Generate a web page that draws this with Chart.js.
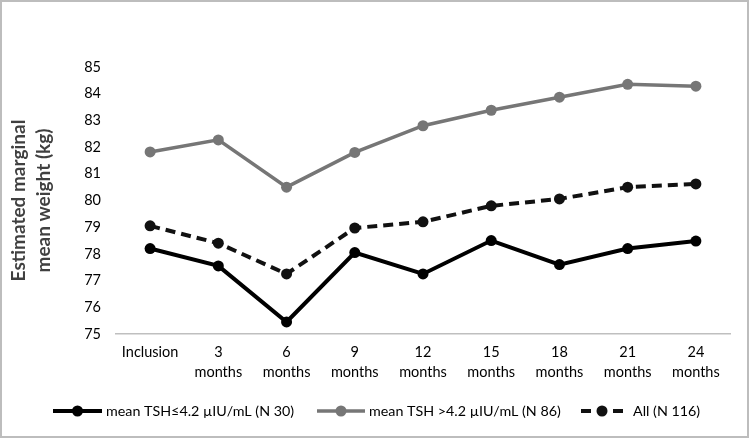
<!DOCTYPE html>
<html>
<head>
<meta charset="utf-8">
<script src="https://cdn.jsdelivr.net/npm/chart.js@4/dist/chart.umd.min.js"></script>
<style>
  html, body { margin: 0; padding: 0; background: #fff; }
  #wrap { position: relative; width: 750px; height: 438px; }
</style>
</head>
<body>
<div id="wrap"><canvas id="c" width="750" height="438"></canvas></div>
<script>
const categories = [["Inclusion"], ["3", "months"], ["6", "months"], ["9", "months"], ["12", "months"], ["15", "months"], ["18", "months"], ["21", "months"], ["24", "months"]];
const tshLow = [78.2, 77.55, 75.45, 78.05, 77.25, 78.5, 77.6, 78.2, 78.48];
const tshHigh = [81.82, 82.27, 80.5, 81.8, 82.8, 83.38, 83.87, 84.35, 84.28];
const allPatients = [79.05, 78.4, 77.25, 78.97, 79.2, 79.8, 80.06, 80.5, 80.62];
const seriesLabels = ["mean TSH\u22644.2 \u00b5IU/mL (N 30)", "mean TSH >4.2 \u00b5IU/mL (N 86)", "All (N 116)"];
const yTitle = ["Estimated marginal", "mean weight (kg)"];
const yMin = 75, yMax = 85;

const FONT = "Lato, 'Open Sans', sans-serif";
const GRAY = "#767676";
// legend layout: sample start, sample width, text start
const LEGEND_SAMPLE_X = [53, 317, 581];
const LEGEND_SAMPLE_W = [49, 48, 42];
const LEGEND_TEXT_X = [106, 369, 633];
const LEGEND_Y = 411;

const frameAndLegend = {
  id: "frameAndLegend",
  beforeDraw(chart) {
    const ctx = chart.ctx;
    ctx.save();
    ctx.fillStyle = "#fff";
    ctx.fillRect(0, 0, chart.width, chart.height);
    ctx.restore();
  },
  afterDraw(chart) {
    const ctx = chart.ctx;
    ctx.save();
    // frame
    ctx.strokeStyle = "#bdbdbd";
    ctx.lineWidth = 2;
    ctx.strokeRect(1, 1, chart.width - 3, chart.height - 2);
    // legend
    const y = LEGEND_Y;
    ctx.font = "14.3px " + FONT;
    ctx.textBaseline = "middle";
    ctx.textAlign = "left";
    chart.data.datasets.forEach((ds, i) => {
      const x = LEGEND_SAMPLE_X[i];
      const w = LEGEND_SAMPLE_W[i];
      ctx.beginPath();
      ctx.strokeStyle = ds.borderColor;
      ctx.lineWidth = ds.borderWidth;
      ctx.setLineDash(ds.borderDash || []);
      ctx.moveTo(x, y);
      ctx.lineTo(x + w, y);
      ctx.stroke();
      ctx.setLineDash([]);
      ctx.beginPath();
      ctx.fillStyle = ds.pointBackgroundColor;
      ctx.arc(x + w / 2, y, ds.pointRadius, 0, Math.PI * 2);
      ctx.fill();
      ctx.fillStyle = "#000";
      ctx.fillText(ds.label, LEGEND_TEXT_X[i], y);
    });
    ctx.restore();
  }
};

new Chart(document.getElementById("c"), {
  type: "line",
  data: {
    labels: categories,
    datasets: [
      {
        label: seriesLabels[0], data: tshLow,
        borderColor: "#000", backgroundColor: "#000",
        pointBackgroundColor: "#000", pointBorderColor: "#000",
        borderWidth: 4, pointRadius: 5.5, pointBorderWidth: 0, tension: 0
      },
      {
        label: seriesLabels[1], data: tshHigh,
        borderColor: GRAY, backgroundColor: GRAY,
        pointBackgroundColor: GRAY, pointBorderColor: GRAY,
        borderWidth: 3.5, pointRadius: 5.5, pointBorderWidth: 0, tension: 0
      },
      {
        label: seriesLabels[2], data: allPatients,
        borderColor: "#111", backgroundColor: "#111",
        pointBackgroundColor: "#111", pointBorderColor: "#111",
        borderWidth: 4, borderDash: [10, 6], pointRadius: 5.5, pointBorderWidth: 0, tension: 0
      }
    ]
  },
  options: {
    responsive: false,
    animation: false,
    layout: { padding: { left: 2, right: 20, top: 67, bottom: 54 } },
    plugins: {
      legend: { display: false },
      tooltip: { enabled: false },
      title: { display: false }
    },
    scales: {
      x: {
        offset: true,
        grid: { display: false, drawTicks: false },
        border: { display: true, color: "#bfbfbf", width: 1.5 },
        ticks: {
          color: "#000", padding: 8, maxRotation: 0, autoSkip: false,
          font: { family: FONT, size: 14.5, lineHeight: 1.38 }
        },
        afterFit(scale) { scale.height = 50; }
      },
      y: {
        min: yMin, max: yMax,
        grid: { display: false, drawTicks: false },
        border: { display: false },
        ticks: {
          stepSize: 1, color: "#000", padding: 15,
          font: { family: FONT, size: 14.5 }
        },
        title: {
          display: true, text: yTitle, color: "#404040",
          font: { family: FONT, size: 19, weight: "bold", lineHeight: 1.32 },
          padding: { top: 4, bottom: 0 }
        },
        afterFit(scale) { scale.width = 114; }
      }
    }
  },
  plugins: [frameAndLegend]
});
</script>
</body>
</html>
